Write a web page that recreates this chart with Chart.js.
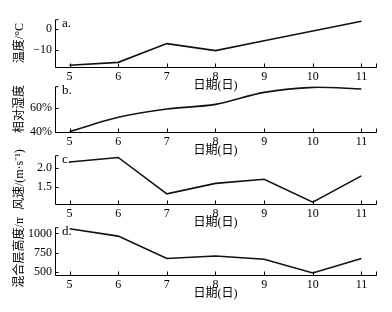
<!DOCTYPE html>
<html>
<head>
<meta charset="utf-8">
<script src="https://cdn.jsdelivr.net/npm/chart.js@4.4.0/dist/chart.umd.min.js"></script>
<style>
  html, body { margin: 0; padding: 0; background: #fff; }
  #wrap { position: relative; width: 392px; height: 312px; overflow: hidden; }
  canvas { position: absolute; left: 0; }
</style>
</head>
<body>
<div id="wrap">
  <canvas id="ca"></canvas>
  <canvas id="cb"></canvas>
  <canvas id="cc"></canvas>
  <canvas id="cd"></canvas>
</div>
<script>
// ---- data ----
const days = [5, 6, 7, 8, 9, 10, 11];
const temperature = [-17.3, -15.9, -7.0, -10.3, -5.6, -1.0, 3.6];
const humidity = [40, 52.3, 59.4, 63.4, 73.7, 78, 76.6];
const windSpeed = [2.17, 2.29, 1.32, 1.6, 1.71, 1.1, 1.8];
const mixHeight = [1061, 965, 672, 705, 662, 484, 672];

const tempTicks = [-10, 0];
const humidTicks = [40, 60];
const windTicks = [1.5, 2.0];
const mixTicks = [500, 750, 1000];

const xTitle = '日期(日)';

Chart.defaults.font.family = "'Liberation Serif', 'Noto Sans CJK SC', serif";
Chart.defaults.font.size = 12;
Chart.defaults.color = '#000';

const axisPlugin = {
  id: 'axisDeco',
  afterDraw(chart, args, opts) {
    const ctx = chart.ctx;
    const a = chart.chartArea;
    const xs = chart.scales.x, ys = chart.scales.y;
    ctx.save();
    ctx.strokeStyle = '#000';
    ctx.lineWidth = 1;
    ctx.beginPath();
    // y axis line with top cap
    ctx.moveTo(a.left + 3.5, a.top + 0.5);
    ctx.lineTo(a.left + 0.5, a.top + 0.5);
    ctx.lineTo(a.left + 0.5, a.bottom + 0.5);
    // x axis line with right cap
    ctx.lineTo(a.right + 0.5, a.bottom + 0.5);
    ctx.lineTo(a.right + 0.5, a.bottom - 3.5);
    // y ticks inward
    ys.ticks.forEach(t => {
      const py = Math.round(ys.getPixelForValue(t.value)) + 0.5;
      ctx.moveTo(a.left, py);
      ctx.lineTo(a.left + 3.5, py);
    });
    // x ticks inward
    xs.ticks.forEach(t => {
      const px = Math.round(xs.getPixelForValue(t.value)) + 0.5;
      ctx.moveTo(px, a.bottom);
      ctx.lineTo(px, a.bottom - 3.5);
    });
    ctx.stroke();
    // panel label
    ctx.fillStyle = '#000';
    ctx.font = "13px 'Liberation Serif', serif";
    ctx.textBaseline = 'top';
    ctx.textAlign = 'left';
    ctx.fillText(opts.label, a.left + 7, a.top - 2);
    ctx.restore();
  }
};

function makePanel(id, cfg) {
  const padTop = 10, xH = 28;
  const plotH = cfg.bottom - cfg.top;
  const el = document.getElementById(id);
  el.width = 392;
  el.height = padTop + plotH + xH;
  el.style.top = (cfg.top - padTop) + 'px';
  new Chart(el, {
    type: 'line',
    data: {
      datasets: [{
        data: days.map((d, i) => ({ x: d, y: cfg.values[i] })),
        borderColor: '#111',
        borderWidth: 1.6,
        pointRadius: 0,
        tension: cfg.tension || 0,
        fill: false
      }]
    },
    options: {
      responsive: false,
      animation: false,
      layout: { padding: { top: padTop, right: 16, left: 0, bottom: 0 } },
      plugins: {
        legend: { display: false },
        tooltip: { enabled: false },
        axisDeco: { label: cfg.label }
      },
      scales: {
        x: {
          type: 'linear',
          min: 4.7, max: 11.3,
          grid: { display: false, drawTicks: false },
          border: { display: false },
          afterBuildTicks: s => { s.ticks = days.map(v => ({ value: v })); },
          afterFit: s => { s.height = xH; },
          ticks: { padding: 3, font: { size: 12 } },
          title: { display: true, text: xTitle, font: { size: 12 }, padding: { top: 0, bottom: 2 } }
        },
        y: {
          min: cfg.min, max: cfg.max,
          grid: { display: false, drawTicks: false },
          border: { display: false },
          afterBuildTicks: s => { s.ticks = cfg.ticks.map(v => ({ value: v })); },
          afterFit: s => { s.width = 55; },
          ticks: { padding: 3, font: { size: 12 }, callback: cfg.fmt },
          title: { display: true, text: cfg.yTitle, font: { size: 12 }, padding: { top: 13, bottom: 0 } }
        }
      }
    },
    plugins: [axisPlugin]
  });
}

makePanel('ca', { top: 19, bottom: 67, values: temperature, ticks: tempTicks, min: -18.1, max: 4.6,
  label: 'a.', yTitle: '温度/°C', fmt: v => (v < 0 ? '\u2212' + Math.abs(v) : String(v)) });
makePanel('cb', { top: 86, bottom: 132, values: humidity, ticks: humidTicks, min: 39.7, max: 79,
  label: 'b.', yTitle: '相对湿度', tension: 0.3, fmt: v => v + '%' });
makePanel('cc', { top: 155, bottom: 204, values: windSpeed, ticks: windTicks, min: 1.05, max: 2.35,
  label: 'c.', yTitle: '风速/(m·s⁻¹)', fmt: v => v.toFixed(1) });
makePanel('cd', { top: 227, bottom: 275, values: mixHeight, ticks: mixTicks, min: 457, max: 1082,
  label: 'd.', yTitle: '混合层高度/m', fmt: v => String(v) });
</script>
</body>
</html>
